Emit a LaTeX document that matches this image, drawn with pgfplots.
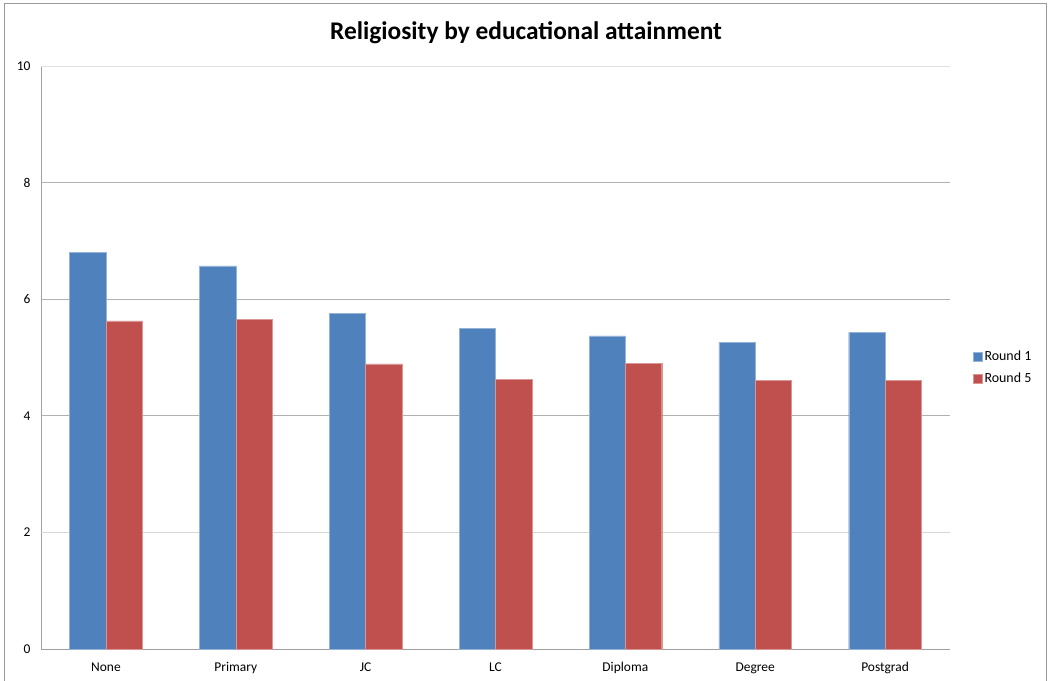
\documentclass[border=0pt]{standalone}
\usepackage{pgfplots}
\pgfplotsset{compat=1.18}
\usepackage{fontspec}
\setmainfont{Carlito}
\definecolor{rone}{HTML}{4F81BD}
\definecolor{rfive}{HTML}{C0504D}
\definecolor{axgray}{HTML}{A0A0A0}
\definecolor{gridgray}{HTML}{B0B0B0}
\begin{document}
\begin{tikzpicture}[x=1bp,y=1bp]
\useasboundingbox (0,0) rectangle (1052,681);
\draw[color=gray!80, line width=1bp] (4,-5) -- (4,677) -- (1046,677) -- (1046,-5);
\node[font=\bfseries\fontsize{25.5}{30}\selectfont] at (526,648) {Religiosity by educational attainment};
\begin{axis}[
  at={(41bp,32bp)}, anchor=south west,
  scale only axis, width=909bp, height=583bp,
  ybar=0pt, bar width=0.28,
  xmin=-0.5, xmax=6.5, ymin=0, ymax=10,
  axis lines=left, axis line style={axgray, -},
  xtick={0,...,6}, xticklabels={None,Primary,JC,LC,Diploma,Degree,Postgrad},
  ytick={0,2,4,6,8,10},
  major tick length=0pt,
  tick style={draw=none},
  ymajorgrids=false,
  ticklabel style={font=\fontsize{13.5}{16}\selectfont},
  /pgf/number format/assume math mode=true,
  yticklabel style={xshift=-7bp},
  xticklabel style={yshift=-10bp},
  legend style={at={(1.023,0.483)}, anchor=west, draw=none, font=\fontsize{14}{16}\selectfont, row sep=7bp, legend cell align=left, inner xsep=2bp},
  legend image code/.code={\fill[#1] (0bp,-4.5bp) rectangle (9bp,4.5bp);},
  clip=false,
]
\draw[gridgray!50, line width=0.6bp] (axis cs:-0.5,2) -- (axis cs:6.5,2);
\draw[gridgray, line width=1bp] (axis cs:-0.5,4) -- (axis cs:6.5,4);
\draw[gridgray, line width=1bp] (axis cs:-0.5,6) -- (axis cs:6.5,6);
\draw[gridgray, line width=1bp] (axis cs:-0.5,8) -- (axis cs:6.5,8);
\draw[gridgray!40, line width=0.6bp] (axis cs:-0.5,10) -- (axis cs:6.5,10);
\addplot[fill=rone, draw=rone!60!white, line width=0.4bp] coordinates {(0,6.80) (1,6.57) (2,5.76) (3,5.50) (4,5.37) (5,5.26) (6,5.43)};
\addplot[fill=rfive, draw=rfive!60!white, line width=0.4bp] coordinates {(0,5.63) (1,5.65) (2,4.89) (3,4.63) (4,4.90) (5,4.61) (6,4.61)};
\legend{Round 1, Round 5}
\end{axis}
\end{tikzpicture}
\end{document}
